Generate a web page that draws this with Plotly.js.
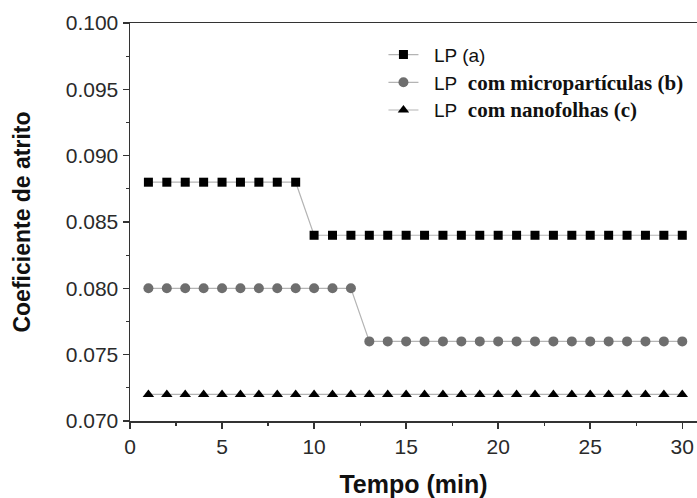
<!DOCTYPE html>
<html>
<head>
<meta charset="utf-8">
<script src="https://cdn.plot.ly/plotly-3.0.1.min.js"></script>
<style>html,body{margin:0;padding:0;background:#fff;}#chart{width:697px;height:498px;}</style>
</head>
<body>
<div id="chart"></div>
<script>
// Data
const tempo = [1,2,3,4,5,6,7,8,9,10,11,12,13,14,15,16,17,18,19,20,21,22,23,24,25,26,27,28,29,30];
const lpA = [0.088,0.088,0.088,0.088,0.088,0.088,0.088,0.088,0.088,
             0.084,0.084,0.084,0.084,0.084,0.084,0.084,0.084,0.084,0.084,0.084,
             0.084,0.084,0.084,0.084,0.084,0.084,0.084,0.084,0.084,0.084];
const lpB = [0.080,0.080,0.080,0.080,0.080,0.080,0.080,0.080,0.080,0.080,0.080,0.080,
             0.076,0.076,0.076,0.076,0.076,0.076,0.076,0.076,0.076,0.076,
             0.076,0.076,0.076,0.076,0.076,0.076,0.076,0.076];
const lpC = [0.072,0.072,0.072,0.072,0.072,0.072,0.072,0.072,0.072,0.072,
             0.072,0.072,0.072,0.072,0.072,0.072,0.072,0.072,0.072,0.072,
             0.072,0.072,0.072,0.072,0.072,0.072,0.072,0.072,0.072,0.072];
const names = [
  '\u00A0\u00A0LP (a)',
  '\u00A0\u00A0LP\u00A0\u00A0<span style="font-family:\'Liberation Serif\',serif;font-weight:bold;font-size:21px">com micropartículas (b)</span>',
  '\u00A0\u00A0LP\u00A0\u00A0<span style="font-family:\'Liberation Serif\',serif;font-weight:bold;font-size:21px">com nanofolhas (c)</span>'
];
const xTicks = [0,5,10,15,20,25,30];
const yTicks = [0.070,0.075,0.080,0.085,0.090,0.095,0.100];

const lineStyle = {color:'#b4b4b4', width:1.2};
const traces = [
  {x:tempo, y:lpA, name:names[0], legendgroup:'a', mode:'lines+markers', line:lineStyle,
   marker:{symbol:'square', size:9, color:'#000'}},
  {x:tempo, y:lpB, name:names[1], legendgroup:'b', mode:'lines+markers', line:lineStyle,
   marker:{symbol:'circle', size:10, color:'#6e6e6e'}},
  {x:tempo, y:lpC, name:names[2], legendgroup:'c', mode:'lines+markers', line:lineStyle,
   marker:{symbol:'triangle-up', size:10, color:'#000'}}
];

const layout = {
  width:697, height:498,
  margin:{l:130, r:0, t:23, b:77, pad:0},
  paper_bgcolor:'#fff', plot_bgcolor:'#fff',
  font:{family:'"Liberation Sans", Arial, sans-serif', color:'#222'},
  showlegend:true,
  legend:{x:0.447, y:0.968, xanchor:'left', yanchor:'top', bgcolor:'rgba(0,0,0,0)',
          font:{size:19, color:'#111'}, tracegroupgap:3, traceorder:'normal'},
  xaxis:{
    range:[0, 30.8], tickvals:xTicks, ticktext:xTicks.map(String), automargin:true,
    showgrid:false, zeroline:false, showline:true, linecolor:'#333', linewidth:1.5,
    mirror:true, ticks:'outside', ticklen:6, tickwidth:1.5, tickcolor:'#333',
    minor:{tickvals:[2.5,7.5,12.5,17.5,22.5,27.5], ticks:'outside', ticklen:3, tickwidth:1.2, tickcolor:'#333'},
    tickfont:{size:21, color:'#2a2a2a'},
    title:{text:'<b>Tempo (min)</b>', font:{size:25, color:'#111'}, standoff:20}
  },
  yaxis:{
    range:[0.070, 0.100], tickvals:yTicks, ticktext:yTicks.map(v=>v.toFixed(3)), automargin:true,
    showgrid:false, zeroline:false, showline:true, linecolor:'#333', linewidth:1.5,
    ticks:'outside', ticklen:6, tickwidth:1.5, tickcolor:'#333',
    minor:{tickvals:[0.0725,0.0775,0.0825,0.0875,0.0925,0.0975], ticks:'outside', ticklen:3, tickwidth:1.2, tickcolor:'#333'},
    tickfont:{size:21, color:'#2a2a2a'},
    title:{text:'<b>Coeficiente de atrito</b>', font:{size:23, color:'#111'}, standoff:28}
  }
};
Plotly.newPlot('chart', traces, layout, {staticPlot:true, displayModeBar:false});
</script>
</body>
</html>
